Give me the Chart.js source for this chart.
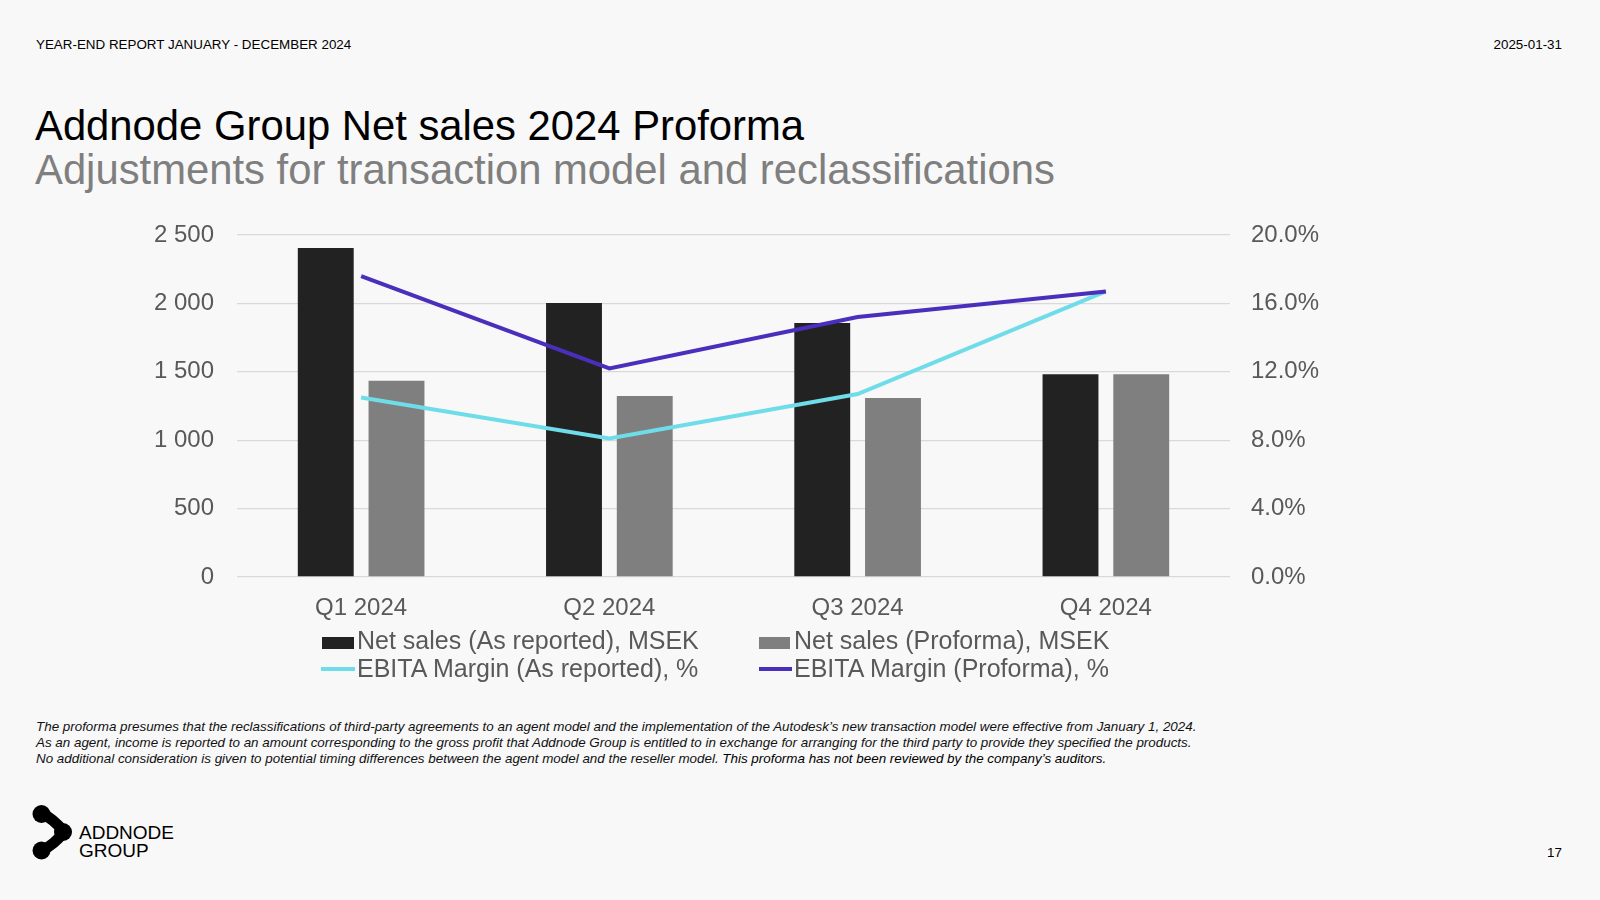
<!DOCTYPE html>
<html>
<head>
<meta charset="utf-8">
<title>Addnode Group Net sales 2024 Proforma</title>
<script src="https://cdn.jsdelivr.net/npm/chart.js@4.4.1/dist/chart.umd.min.js"></script>
<style>
    html, body {
        margin: 0;
        padding: 0;
        width: 1600px;
        height: 900px;
        background: #f8f8f8;
        font-family: 'Liberation Sans', Arial, sans-serif;
        overflow: hidden;
    }
    .abs { position: absolute; white-space: nowrap; }
    .header { font-size: 13.4px; line-height: 13px; color: #000; }
    .title { left: 35px; font-size: 41.8px; line-height: 41.5px; }
    .legend-item { font-size: 25px; line-height: 28px; color: #595959; }
    .swatch { position: absolute; }
    .note { left: 36px; top: 719px; font-size: 13.4px; line-height: 16px; font-style: italic; color: #111; }
    #chartBox { position: absolute; left: 0; top: 200px; width: 1600px; height: 440px; }
</style>
</head>
<body>

<div class="abs header" style="left:36px; top:38px;">YEAR-END REPORT JANUARY - DECEMBER 2024</div>
<div class="abs header" style="right:38px; top:38px;">2025-01-31</div>

<div class="abs title" style="top:105px; color:#000;">Addnode Group Net sales 2024 Proforma</div>
<div class="abs title" style="top:149px; color:#7f7f7f;">Adjustments for transaction model and reclassifications</div>

<div id="chartBox"><canvas id="myChart"></canvas></div>

<!-- legend -->
<div class="swatch" style="left:322px; top:637px; width:32px; height:12px; background:#222222;"></div>
<div class="abs legend-item" style="left:357px; top:626px;">Net sales (As reported), MSEK</div>
<div class="swatch" style="left:759px; top:637px; width:31px; height:12px; background:#7f7f7f;"></div>
<div class="abs legend-item" style="left:794px; top:626px;">Net sales (Proforma), MSEK</div>
<div class="swatch" style="left:321px; top:667px; width:34px; height:4px; background:#6fdde9;"></div>
<div class="abs legend-item" style="left:357px; top:654px;">EBITA Margin (As reported), %</div>
<div class="swatch" style="left:759px; top:667px; width:33px; height:4px; background:#4a2fbd;"></div>
<div class="abs legend-item" style="left:794px; top:654px;">EBITA Margin (Proforma), %</div>

<div class="abs note">The proforma presumes that the reclassifications of third-party agreements to an agent model and the implementation of the Autodesk’s new transaction model were effective from January 1, 2024.<br>As an agent, income is reported to an amount corresponding to the gross profit that Addnode Group is entitled to in exchange for arranging for the third party to provide they specified the products.<br>No additional consideration is given to potential timing differences between the agent model and the reseller model. <span style="color:#000;">This proforma has not been reviewed by the company’s auditors.</span></div>

<!-- logo -->
<svg class="abs" style="left:0; top:790px;" width="80" height="80" viewBox="0 790 80 80">
    <path d="M41 813 Q54 819 64 832 Q54 845 41 851" fill="none" stroke="#000" stroke-width="11" stroke-linecap="round"/>
    <circle cx="41.5" cy="814" r="9" fill="#000"/>
    <circle cx="63" cy="832" r="9" fill="#000"/>
    <circle cx="41.5" cy="850.5" r="9" fill="#000"/>
</svg>
<div class="abs" style="left:79px; top:824px; font-size:19px; line-height:17.7px; color:#000;">ADDNODE<br>GROUP</div>

<div class="abs header" style="right:38px; top:846px;">17</div>

<script>
    // Datos
    const categories = ['Q1 2024', 'Q2 2024', 'Q3 2024', 'Q4 2024'];
    const netSalesReported = [2405, 2003, 1857, 1482];
    const netSalesProforma = [1435, 1323, 1308, 1482];
    const ebitaReported = [10.5, 8.1, 10.7, 16.7];
    const ebitaProforma = [17.6, 12.2, 15.2, 16.7];

    const salesTicks = { min: 0, max: 2500, step: 500 };
    const marginTicks = { min: 0, max: 20, step: 4 };

    Chart.defaults.font.family = "'Liberation Sans', Arial, sans-serif";
    Chart.defaults.color = '#595959';

    // ancho fijo del eje y sin el relleno extra de las etiquetas
    function fixAxis(width) {
        return function (axis) {
            axis.width = width;
            axis.paddingTop = 14;
            axis.paddingBottom = 14;
        };
    }

    const ctx = document.getElementById('myChart').getContext('2d');

    const myChart = new Chart(ctx, {
        data: {
            labels: categories,
            datasets: [
                {
                    type: 'line',
                    label: 'EBITA Margin (Proforma), %',
                    data: ebitaProforma,
                    yAxisID: 'y1',
                    borderColor: '#4a2fbd',
                    borderWidth: 4,
                    pointRadius: 0,
                    tension: 0,
                    order: 0
                },
                {
                    type: 'line',
                    label: 'EBITA Margin (As reported), %',
                    data: ebitaReported,
                    yAxisID: 'y1',
                    borderColor: '#6fdde9',
                    borderWidth: 4,
                    pointRadius: 0,
                    tension: 0,
                    order: 1
                },
                {
                    type: 'bar',
                    label: 'Net sales (As reported), MSEK',
                    data: netSalesReported,
                    yAxisID: 'y',
                    backgroundColor: '#222222',
                    categoryPercentage: 0.57,
                    barPercentage: 0.79,
                    order: 2
                },
                {
                    type: 'bar',
                    label: 'Net sales (Proforma), MSEK',
                    data: netSalesProforma,
                    yAxisID: 'y',
                    backgroundColor: '#7f7f7f',
                    categoryPercentage: 0.57,
                    barPercentage: 0.79,
                    order: 2
                }
            ]
        },
        options: {
            responsive: true,
            maintainAspectRatio: false,
            animation: false,
            layout: {
                padding: { top: 35, left: 0, right: 0, bottom: 0 }
            },
            scales: {
                x: {
                    grid: { display: false },
                    border: { display: false },
                    ticks: {
                        font: { size: 24 },
                        color: '#595959',
                        padding: 9
                    },
                    afterFit: function (axis) {
                        axis.height = 63;
                    }
                },
                y: {
                    position: 'left',
                    min: salesTicks.min,
                    max: salesTicks.max,
                    grid: {
                        color: '#d9d9d9',
                        lineWidth: 1.3,
                        drawTicks: false
                    },
                    border: { display: false },
                    ticks: {
                        stepSize: salesTicks.step,
                        font: { size: 24 },
                        color: '#595959',
                        padding: 23,
                        callback: function (value) {
                            // separador de miles con espacio
                            return String(value).replace(/\B(?=(\d{3})+(?!\d))/g, ' ');
                        }
                    },
                    afterFit: fixAxis(237)
                },
                y1: {
                    position: 'right',
                    min: marginTicks.min,
                    max: marginTicks.max,
                    grid: { display: false, drawTicks: false },
                    border: { display: false },
                    ticks: {
                        stepSize: marginTicks.step,
                        font: { size: 24 },
                        color: '#595959',
                        padding: 21,
                        callback: function (value) {
                            return value.toFixed(1) + '%';
                        }
                    },
                    afterFit: fixAxis(370)
                }
            },
            plugins: {
                legend: { display: false },
                tooltip: { enabled: false }
            }
        }
    });
</script>
</body>
</html>
